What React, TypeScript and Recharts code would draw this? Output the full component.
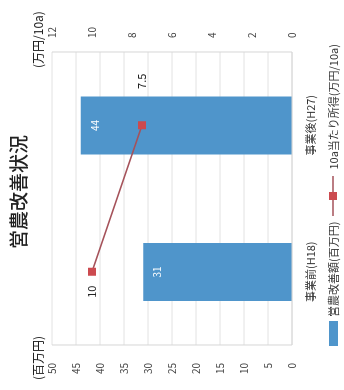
import React from "react";
import {
  ComposedChart,
  Bar,
  Line,
  XAxis,
  YAxis,
  CartesianGrid,
} from "recharts";

const categories = ["事業前(H18)", "事業後(H27)"];
const improvement = [31, 44];
const income = [10, 7.5];
const leftTicks = [0, 5, 10, 15, 20, 25, 30, 35, 40, 45, 50];
const rightTicks = [0, 2, 4, 6, 8, 10, 12];

const data = categories.map((name, i) => ({
  name,
  improvement: improvement[i],
  income: income[i],
}));

const FONT = '"Noto Sans CJK JP", "Noto Sans", sans-serif';
const BLUE = "#4f95cb";
const LINE = "#a5525a";
const MARK = "#cc4a4f";

const SquareDot = (props: any) => {
  const { cx, cy, index } = props;
  return <rect key={"d" + index} x={cx - 4} y={cy - 4} width={8} height={8} fill={MARK} />;
};

const LineLabel = (props: any) => {
  const { x, y, value, index } = props;
  const dx = index === 0 ? -20 : 44;
  return (
    <text key={"l" + index} x={x + dx} y={y} dy="0.35em" textAnchor="middle" fontSize={11} fill="#222">
      {value}
    </text>
  );
};

// legend drawn by hand: the rotated wrapper breaks recharts' legend measuring
const ChartLegend = () => (
  <div
    style={{
      position: "absolute",
      left: 0,
      width: 390,
      top: 322,
      display: "flex",
      justifyContent: "center",
      alignItems: "center",
      fontSize: 11,
      color: "#333",
      height: 22,
    }}
  >
    <svg width={25} height={9} style={{ marginRight: 4 }}>
      <rect width={25} height={9} fill={BLUE} />
    </svg>
    <span style={{ marginRight: 6 }}>営農改善額(百万円)</span>
    <svg width={40} height={10} style={{ marginRight: 6 }}>
      <line x1={0} y1={5} x2={40} y2={5} stroke={LINE} strokeWidth={1.5} />
      <rect x={16} y={1} width={8} height={8} fill={MARK} />
    </svg>
    <span>10a当たり所得(万円/10a)</span>
  </div>
);

export default function App() {
  return (
    <div
      style={{
        position: "fixed",
        left: 0,
        top: 0,
        width: 390,
        height: 344,
        transformOrigin: "0 0",
        transform: "translate(0px, 390px) rotate(-90deg)",
        background: "#fff",
        fontFamily: FONT,
      }}
    >
      <ComposedChart
        width={390}
        height={344}
        data={data}
        margin={{ top: 52, right: 0, left: 0, bottom: 22 }}
        style={{ fontFamily: FONT }}
      >
        <CartesianGrid vertical={false} yAxisId="left" stroke="#e2e2e2" />
        <XAxis
          dataKey="name"
          height={30}
          tickLine={false}
          axisLine={{ stroke: "#d6d6d6" }}
          tickMargin={9}
          tick={{ fontSize: 11, fill: "#333" }}
        />
        <YAxis
          yAxisId="left"
          domain={[0, 50]}
          ticks={leftTicks}
          width={45}
          tickLine={false}
          axisLine={{ stroke: "#d6d6d6" }}
          tickMargin={12}
          tick={{ fontSize: 10, fill: "#444" }}
        />
        <YAxis
          yAxisId="right"
          orientation="right"
          domain={[0, 12]}
          ticks={rightTicks}
          width={52}
          tickLine={false}
          axisLine={{ stroke: "#d6d6d6" }}
          tickMargin={8}
          tick={{ fontSize: 10, fill: "#444" }}
        />
        <Bar
          yAxisId="left"
          dataKey="improvement"
          fill={BLUE}
          barSize={58}
          isAnimationActive={false}
          label={{ position: "insideTop", fill: "#fff", fontSize: 10, offset: 11 }}
        />
        <Line
          yAxisId="right"
          dataKey="income"
          stroke={LINE}
          strokeWidth={1.5}
          dot={SquareDot}
          activeDot={false}
          label={LineLabel}
          isAnimationActive={false}
        />
      </ComposedChart>
      <ChartLegend />
      <div
        style={{
          position: "absolute",
          left: 0,
          width: 396,
          top: 4,
          textAlign: "center",
          fontSize: 19,
          fontWeight: 500,
          color: "#222",
        }}
      >
        営農改善状況
      </div>
      <div style={{ position: "absolute", left: 10, top: 29, fontSize: 12, color: "#222" }}>
        (百万円)
      </div>
      <div style={{ position: "absolute", left: 322, top: 29, fontSize: 12, color: "#222", whiteSpace: "nowrap" }}>
        (万円/10a)
      </div>
    </div>
  );
}
